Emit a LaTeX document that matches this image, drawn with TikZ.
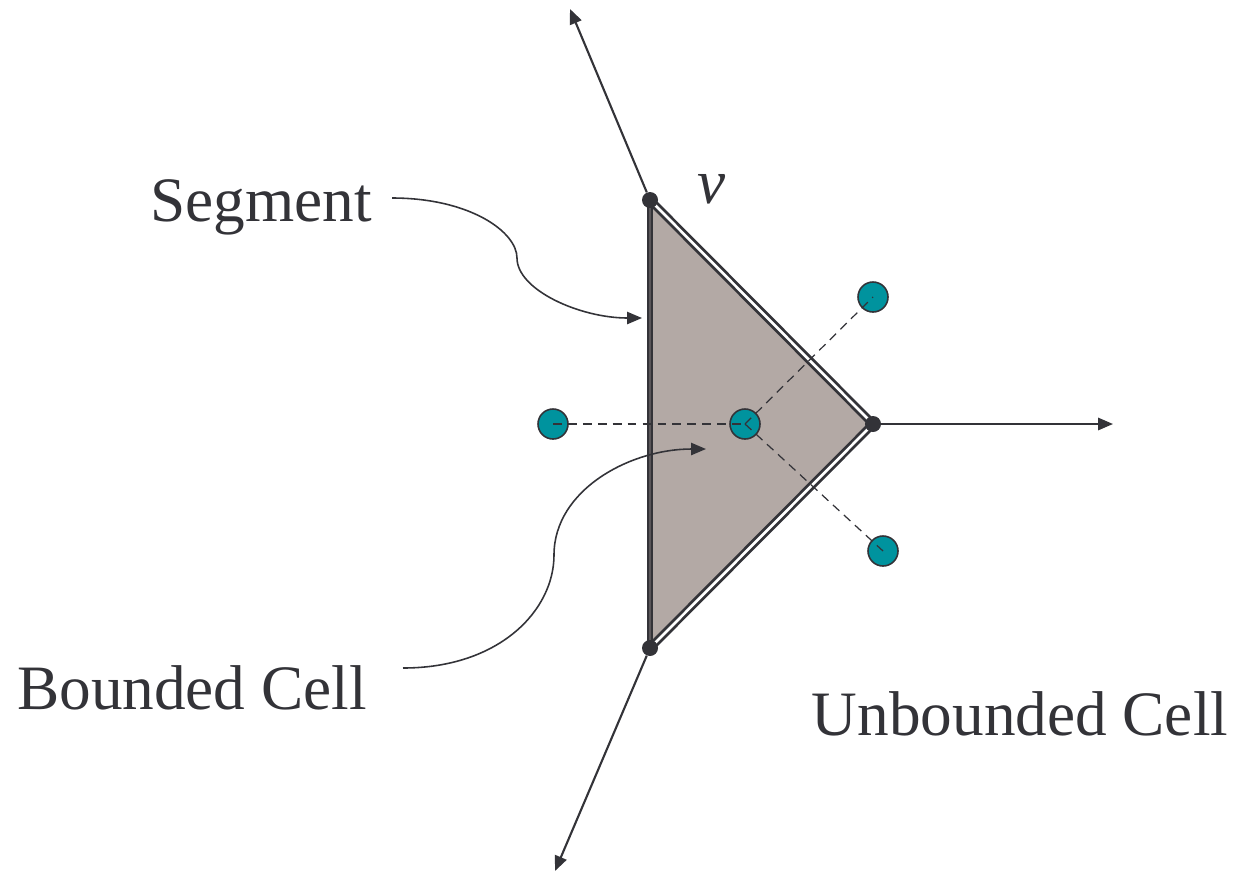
\documentclass[tikz,border=0pt]{standalone}
\usepackage{fontspec}
\setmainfont{Liberation Serif}
\usetikzlibrary{arrows.meta}
\definecolor{ink}{HTML}{333338}
\definecolor{cellfill}{HTML}{B3A9A5}
\definecolor{teal}{HTML}{00939E}
\begin{document}
\begin{tikzpicture}[x=0.02cm,y=-0.02cm,
  vdot/.style={circle,fill=ink,inner sep=0pt,minimum size=16*0.02cm},
  site/.style={circle,fill=teal,draw=ink,line width=0.9pt,inner sep=0pt,minimum size=30*0.02cm},
  ray/.style={ink,line width=1.2pt,-{Triangle[length=8.5pt,width=7pt]}},
  pointer/.style={ink,line width=0.9pt,-{Triangle[length=8.5pt,width=7pt]}},
  dual/.style={ink,line width=0.7pt,dash pattern=on 5pt off 3.5pt},
  lbl/.style={text=ink,font=\fontsize{36}{40}\selectfont,inner sep=0pt}]
\useasboundingbox (0,0) rectangle (1237,873);
% triangle
\fill[cellfill] (650,200) -- (873,424) -- (650,648) -- cycle;
\draw[ink,line width=1.6pt,double=white,double distance=1.5pt,line join=miter] (650,200) -- (873,424) -- (650,648);
\draw[ink,line width=3.6pt] (650,202) -- (650,646);
\draw[ink!70!cellfill,line width=0.8pt] (650,204) -- (650,644);
% vertices
\node[vdot] (v) at (650,200) {};
\node[vdot] (r) at (873,424) {};
\node[vdot] (b) at (650,648) {};
\coordinate (vend) at (570,9);
\coordinate (rend) at (1113,424);
\coordinate (bend) at (555,871);
\draw[ray] (v) -- (vend);
\draw[ray] (r) -- (rend);
\draw[ray] (b) -- (bend);
% sites
\node[site] (s0) at (553,424) {};
\node[site] (s1) at (745,424) {};
\node[site] (s2) at (873,297) {};
\node[site] (s3) at (883,551) {};
\draw[dual] (s0.center) -- (s1.center);
\draw[dual] (s1.center) -- (s2.center);
\draw[dual] (s1.center) -- (s3.center);
% labels
\node[lbl] (seg) at (261,207) {Segment};
\node[lbl] (bc) at (192,688) {Bounded Cell};
\node[lbl] (uc) at (1020,714) {Unbounded Cell};
\node[lbl,font=\fontsize{36}{40}\selectfont\itshape] (vl) at (712,189) {v};
\coordinate (segstart) at (392,198);
\coordinate (segtip) at (642,318);
\coordinate (bcstart) at (403,668);
\coordinate (bctip) at (706,449);
\draw[pointer] (segstart) .. controls (470,198) and (517,232) .. (517,258) .. controls (517,290) and (580,318) .. (segtip);
\draw[pointer] (bcstart) .. controls (500,668) and (554,610) .. (554,555) .. controls (554,490) and (630,449) .. (bctip);
\end{tikzpicture}
\end{document}
